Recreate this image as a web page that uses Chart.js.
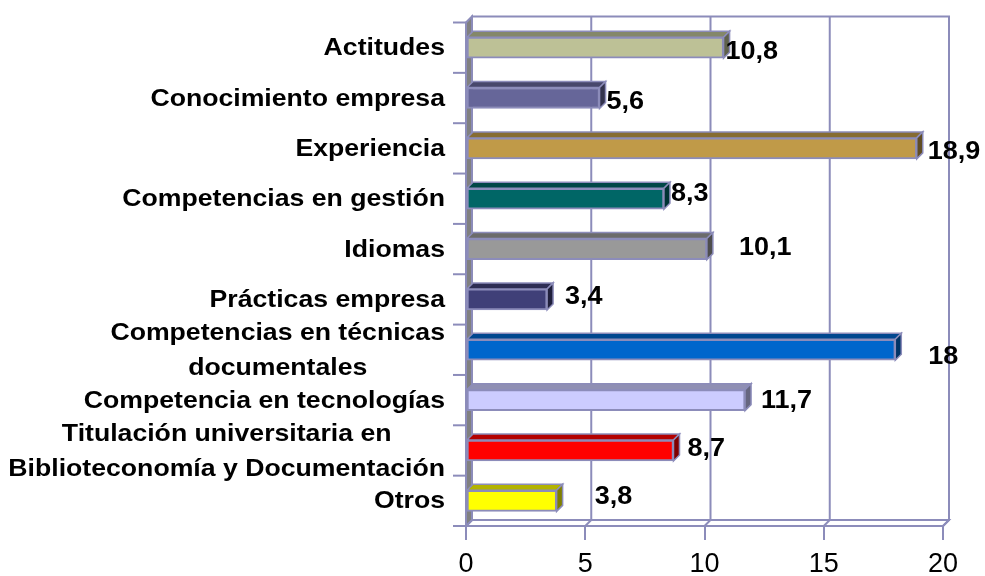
<!DOCTYPE html>
<html>
<head>
<meta charset="utf-8">
<script src="https://cdn.jsdelivr.net/npm/chart.js@4.4.0/dist/chart.umd.min.js"></script>
<style>
    html, body { margin: 0; padding: 0; background: #fff; }
    canvas { display: block; }
</style>
</head>
<body>
<canvas id="skillsChart" width="985" height="576"></canvas>
<script>
//Data
const categories = [
    'Actitudes',
    'Conocimiento empresa',
    'Experiencia',
    'Competencias en gestión',
    'Idiomas',
    'Prácticas empresa',
    ['Competencias en técnicas', 'documentales'],
    'Competencia en tecnologías',
    ['Titulación universitaria en', 'Biblioteconomía y Documentación'],
    'Otros'
];
const values = [10.8, 5.6, 18.9, 8.3, 10.1, 3.4, 18, 11.7, 8.7, 3.8];
const xTicks = [0, 5, 10, 15, 20];

//Styles
const barColors = ['#BDC196', '#666699', '#C09A48', '#006666', '#999999',
    '#404078', '#0066CC', '#CCCCFF', '#FF0000', '#FFFF00'];
const gridColor = '#8C8CBA';
const DEPTH = 6;
// hand placed value labels: [dx from bar end, dy from bar centre]
const labelNudge = [[2, 3], [7, 3], [11, 3], [7, -6], [32, -2], [18, -3], [33, 6], [16, 0], [14, -2], [38, -5]];

function shade(hex, f) {
    const n = parseInt(hex.slice(1), 16);
    const r = Math.round(((n >> 16) & 255) * f);
    const g = Math.round(((n >> 8) & 255) * f);
    const b = Math.round((n & 255) * f);
    return `rgb(${r}, ${g}, ${b})`;
}

function poly(ctx, pts, fill, stroke) {
    ctx.beginPath();
    ctx.moveTo(pts[0][0], pts[0][1]);
    pts.slice(1).forEach(p => ctx.lineTo(p[0], p[1]));
    ctx.closePath();
    if (fill) { ctx.fillStyle = fill; ctx.fill(); }
    if (stroke) { ctx.strokeStyle = stroke; ctx.stroke(); }
}

function line(ctx, x1, y1, x2, y2) {
    ctx.beginPath();
    ctx.moveTo(x1, y1);
    ctx.lineTo(x2, y2);
    ctx.stroke();
}

function stretchText(ctx, text, x, y, align, sx) {
    ctx.save();
    ctx.translate(x, y);
    ctx.scale(sx, 1);
    ctx.textAlign = align;
    ctx.fillText(text, 0, 0);
    ctx.restore();
}

//3D box plugin: walls, floor, bar faces, labels
const boxPlugin = {
    id: 'box3d',
    beforeDatasetsDraw(chart) {
        const { ctx, chartArea: a, scales: { x, y } } = chart;
        const d = DEPTH;
        ctx.save();
        ctx.lineWidth = 2;
        ctx.strokeStyle = gridColor;
        // back wall
        ctx.strokeRect(a.left + d, a.top - d, a.right - a.left, a.bottom - a.top);
        xTicks.forEach(v => {
            const px = x.getPixelForValue(v) + d;
            line(ctx, px, a.top - d, px, a.bottom - d);
        });
        // floor
        poly(ctx, [[a.left, a.bottom], [a.right, a.bottom], [a.right + d, a.bottom - d], [a.left + d, a.bottom - d]], null, gridColor);
        xTicks.forEach(v => {
            const px = x.getPixelForValue(v);
            line(ctx, px, a.bottom, px + d, a.bottom - d);
        });
        // left wall
        poly(ctx, [[a.left, a.top], [a.left + d, a.top - d], [a.left + d, a.bottom - d], [a.left, a.bottom]], '#808080', gridColor);
        // category tick marks
        const step = y.getPixelForValue(1) - y.getPixelForValue(0);
        for (let i = 0; i <= categories.length; i++) {
            const py = y.getPixelForValue(i) - step / 2;
            line(ctx, a.left - 13, py, a.left, py);
        }
        ctx.restore();
    },
    afterDatasetsDraw(chart) {
        const { ctx, chartArea: a, scales: { y } } = chart;
        const d = DEPTH;
        const meta = chart.getDatasetMeta(0);
        ctx.save();
        ctx.lineWidth = 1.5;
        meta.data.forEach((bar, i) => {
            const top = bar.y - bar.height / 2;
            const bot = bar.y + bar.height / 2;
            poly(ctx, [[bar.base, top], [bar.base + d, top - d], [bar.x + d, top - d], [bar.x, top]], shade(barColors[i], 0.7), gridColor);
            poly(ctx, [[bar.x, top], [bar.x + d, top - d], [bar.x + d, bot - d], [bar.x, bot]], shade(barColors[i], 0.5), gridColor);
        });
        // value labels
        ctx.fillStyle = '#000';
        ctx.textBaseline = 'middle';
        ctx.font = 'bold 25px "Liberation Sans", Arial, sans-serif';
        meta.data.forEach((bar, i) => {
            const txt = String(values[i]).replace('.', ',');
            stretchText(ctx, txt, bar.x + labelNudge[i][0], bar.y + labelNudge[i][1] + 1, 'left', 1.08);
        });
        // category labels
        ctx.font = 'bold 24px "Liberation Sans", Arial, sans-serif';
        const sx = 1.11;
        const right = a.left - 21;
        categories.forEach((c, i) => {
            const lines = Array.isArray(c) ? c : [c];
            const widest = Math.max(...lines.map(t => ctx.measureText(t).width * sx));
            const cy = y.getPixelForValue(i);
            lines.forEach((t, j) => {
                const py = cy + (j - (lines.length - 1) / 2) * 35 + 1;
                stretchText(ctx, t, right - widest / 2, py, 'center', sx);
            });
        });
        ctx.restore();
    }
};

//Chart Config
const skillsConfig = {
    type: 'bar',
    data: {
        labels: categories,
        datasets: [{
            data: values,
            backgroundColor: barColors,
            borderColor: gridColor,
            borderWidth: 2,
            borderSkipped: false,
            barThickness: 21
        }]
    },
    options: {
        indexAxis: 'y',
        responsive: false,
        animation: false,
        layout: {
            padding: { left: 466, right: 42, top: 22.5, bottom: 0 }
        },
        scales: {
            x: {
                min: 0,
                max: 20,
                afterFit: (scale) => { scale.height = 50; },
                afterBuildTicks: (scale) => {
                    scale.ticks = xTicks.map(v => ({ value: v }));
                },
                border: { display: false },
                grid: {
                    drawOnChartArea: false,
                    drawTicks: true,
                    tickLength: 14,
                    color: gridColor,
                    lineWidth: 2
                },
                ticks: {
                    color: '#000',
                    padding: 8,
                    font: { family: '"Liberation Sans", Arial, sans-serif', size: 27 }
                }
            },
            y: {
                display: false
            }
        },
        plugins: {
            legend: { display: false },
            tooltip: { enabled: false }
        }
    },
    plugins: [boxPlugin]
};

//Chart Render
const skillsChart = new Chart(
    document.getElementById('skillsChart'),
    skillsConfig
);
</script>
</body>
</html>
